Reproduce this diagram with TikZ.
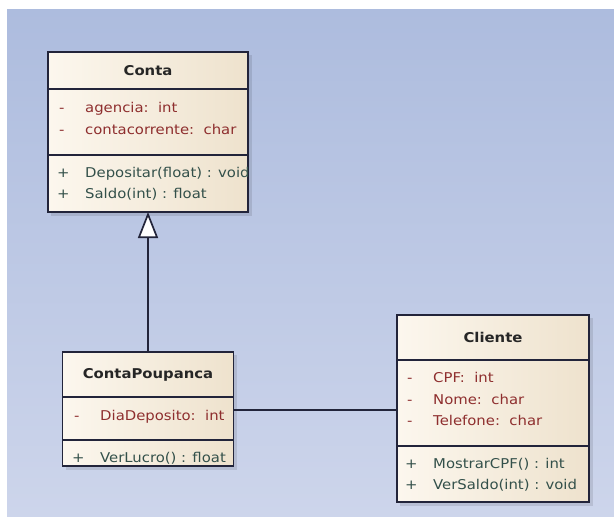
\documentclass[tikz,border=0pt]{standalone}
\usepackage{fontspec}
\setmainfont{DejaVu Sans}[FakeStretch=1.1]
\usepackage{xcolor}
\usepackage{tikz}
\usetikzlibrary{arrows.meta, positioning, shadows}

\definecolor{bgtop}{HTML}{ADBCDE}
\definecolor{bgbot}{HTML}{CDD5EB}
\definecolor{boxl}{HTML}{FCF7EE}
\definecolor{boxr}{HTML}{EEE2CD}
\definecolor{attrc}{HTML}{8E2E2E}
\definecolor{operc}{HTML}{33504A}
\definecolor{edge}{HTML}{22243A}

\begin{document}
\begin{tikzpicture}[
    x=1pt, y=-1pt,
    part/.style={draw=edge, line width=1.6pt, left color=boxl, right color=boxr,
                 inner sep=0pt, outer sep=0pt, font=\fontsize{13.5}{15}\selectfont\bfseries,
                 text=black!85},
    shade box/.style={fill=black, opacity=0.10},
    attr/.style={anchor=base west, inner sep=0pt, text=attrc, font=\fontsize{13.5}{15}\selectfont},
    oper/.style={anchor=base west, inner sep=0pt, text=operc, font=\fontsize{13.5}{15}\selectfont},
    link/.style={draw=edge, line width=1.7pt}
  ]
  % background
  \useasboundingbox (0,0) rectangle (614,517);
  \fill[white] (0,0) rectangle (614,517);
  \shade[top color=bgtop, bottom color=bgbot] (7,9) rectangle (614,517);

  % shadows
  \fill[shade box] (51,55) rectangle (252,216);
  \fill[shade box] (66,355) rectangle (237,470);
  \fill[shade box] (400,318) rectangle (593,506);

  % class Conta
  \node[part, minimum width=200, minimum height=37] (conta) at (148,70.5) {Conta};
  \node[part, minimum width=200, minimum height=66, below=0pt of conta] (contaA) {};
  \node[part, minimum width=200, minimum height=57, below=0pt of contaA] (contaO) {};

  % class ContaPoupanca
  \node[part, minimum width=171, minimum height=45] (poup) at (148,374.5) {ContaPoupanca};
  \node[part, minimum width=171, minimum height=43, below=0pt of poup] (poupA) {};
  \node[part, minimum width=171, minimum height=26, below=0pt of poupA] (poupO) {};

  % class Cliente
  \node[part, minimum width=192, minimum height=45] (cli) at (493,337.5) {Cliente};
  \node[part, minimum width=192, minimum height=86, below=0pt of cli] (cliA) {};
  \node[part, minimum width=192, minimum height=56, below=0pt of cliA] (cliO) {};

  % members of Conta
  \node[attr] (ca1s) at (59,112) {-};
  \node[attr] (ca1) at (85,112) {agencia:\ \ int};
  \node[attr] (ca2s) at (59,134) {-};
  \node[attr] (ca2) at (85,134) {contacorrente:\ \ char};
  \node[oper] (co1s) at (57,177) {+};
  \node[oper] (co1) at (85,177) {Depositar(float) : void};
  \node[oper] (co2s) at (57,198) {+};
  \node[oper] (co2) at (85,198) {Saldo(int) : float};

  % members of ContaPoupanca
  \node[attr] (pa1s) at (74,420) {-};
  \node[attr] (pa1) at (100,420) {DiaDeposito:\ \ int};
  \node[oper] (po1s) at (72,462) {+};
  \node[oper] (po1) at (100,462) {VerLucro() : float};

  % members of Cliente
  \node[attr] (la1s) at (407,382) {-};
  \node[attr] (la1) at (433,382) {CPF:\ \ int};
  \node[attr] (la2s) at (407,404) {-};
  \node[attr] (la2) at (433,404) {Nome:\ \ char};
  \node[attr] (la3s) at (407,425) {-};
  \node[attr] (la3) at (433,425) {Telefone:\ \ char};
  \node[oper] (lo1s) at (405,468) {+};
  \node[oper] (lo1) at (433,468) {MostrarCPF() : int};
  \node[oper] (lo2s) at (405,489) {+};
  \node[oper] (lo2) at (433,489) {VerSaldo(int) : void};

  % links
  \draw[link, -{Triangle[open, fill=white, length=26pt, width=20pt]}] (poup.north) -- (contaO.south);
  \draw[link] (poupA.east |- 0,410) -- (cliA.west |- 0,410);
\end{tikzpicture}
\end{document}
